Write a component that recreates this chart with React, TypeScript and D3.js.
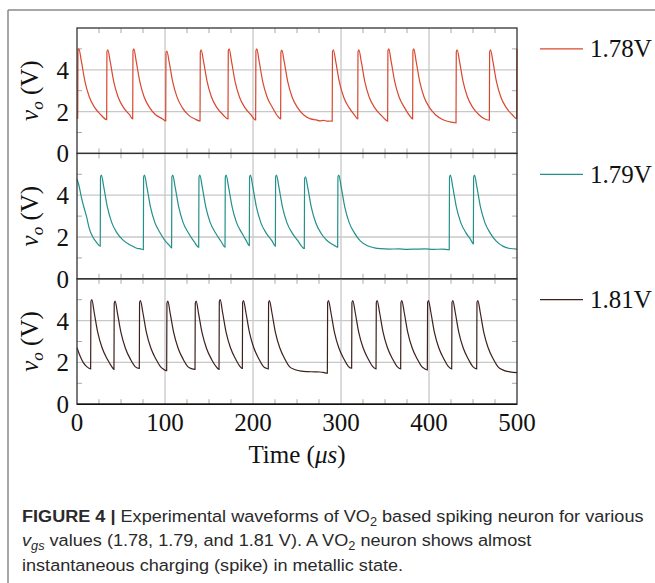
import React, { useLayoutEffect, useRef, useState } from 'react';
import * as d3 from 'd3';

type P = [number, number];

const xTicks = [0, 100, 200, 300, 400, 500];
const xMinor = [25, 50, 75, 125, 150, 175, 225, 250, 275, 325, 350, 375, 425, 450, 475];
const yTicks = [0, 2, 4];
const yMinor = [1, 3, 5];
const seriesLabels = ['1.78V', '1.79V', '1.81V'];
const seriesColors = ['#d9472f', '#23908b', '#3d211d'];

const v178: P[] = [
  [0, 1.66], [0.8, 1.68], [1.1, 4.9], [2.1, 5.0], [5, 4.4], [9, 3.45], [14, 2.7], [20, 2.2], [27, 1.85],
  [33.7, 1.62], [34.0, 4.86], [35.0, 4.96], [37.7, 4.4], [41.7, 3.45], [46.7, 2.7], [52.7, 2.2], [59.7, 1.85],
  [63.3, 1.65], [63.6, 4.9], [64.6, 5.0], [67.3, 4.4], [71.3, 3.45], [76.3, 2.7], [82.3, 2.2], [89.3, 1.85], [97.3, 1.65],
  [100.8, 1.56], [101.1, 4.8], [102.1, 4.9], [104.8, 4.35], [108.8, 3.42], [113.8, 2.68], [119.8, 2.18], [126.8, 1.83], [134.8, 1.63],
  [139.8, 1.55], [140.1, 4.85], [141.1, 4.95], [143.8, 4.4], [147.8, 3.45], [152.8, 2.7], [158.8, 2.2], [165.8, 1.85],
  [171.6, 1.65], [171.9, 4.9], [172.9, 5.0], [175.6, 4.4], [179.6, 3.45], [184.6, 2.7], [190.6, 2.2], [197.6, 1.85],
  [203.0, 1.6], [203.3, 4.9], [204.3, 5.0], [207.0, 4.4], [211.0, 3.45], [216.0, 2.7], [222.0, 2.2], [228.0, 1.78],
  [231.4, 1.65], [231.7, 4.84], [232.7, 4.94], [235.4, 4.4], [239.4, 3.45], [244.4, 2.7], [250.4, 2.2], [257.4, 1.85], [265.4, 1.65], [272, 1.6], [276, 1.56], [280, 1.58], [284, 1.54], [288, 1.55],
  [290.0, 1.54], [290.3, 4.86], [291.3, 4.96], [294.0, 4.4], [298.0, 3.45], [303.0, 2.7], [309.0, 2.2], [316.0, 1.8],
  [319.0, 1.65], [319.3, 4.86], [320.3, 4.96], [323.0, 4.4], [327.0, 3.45], [332.0, 2.7], [338.0, 2.2], [345.0, 1.85], [351.0, 1.6],
  [353.0, 1.54], [353.3, 4.9], [354.3, 5.0], [357.0, 4.4], [361.0, 3.45], [366.0, 2.7], [372.0, 2.2], [379.0, 1.75],
  [381.4, 1.65], [381.7, 4.9], [382.7, 5.0], [385.4, 4.4], [389.4, 3.45], [394.4, 2.7], [400.4, 2.2], [407.4, 1.85], [415.4, 1.62], [420, 1.55], [425, 1.5], [429, 1.47],
  [430.7, 1.46], [431.0, 4.86], [432.0, 4.96], [434.7, 4.4], [438.7, 3.45], [443.7, 2.7], [449.7, 2.2], [456.7, 1.85], [464.7, 1.62],
  [468.6, 1.59], [468.9, 4.86], [469.9, 4.96], [472.6, 4.4], [476.6, 3.45], [481.6, 2.7], [487.6, 2.2], [494.6, 1.85],
  [499.6, 1.67], [499.9, 4.9], [500, 5.0],
];

const v179: P[] = [
  [0, 4.78], [2, 4.5], [5, 3.9], [8, 3.4], [11, 2.95], [14, 2.4], [18, 2.0], [22, 1.75],
  [26.4, 1.56], [26.7, 4.86], [27.7, 4.96], [30.4, 4.4], [34.4, 3.45], [39.4, 2.7], [45.4, 2.2], [52.4, 1.85], [60.4, 1.62], [65, 1.52], [68, 1.46], [71, 1.44], [73, 1.42],
  [75.4, 1.4], [75.7, 4.86], [76.7, 4.96], [79.4, 4.4], [83.4, 3.45], [88.4, 2.7], [94.4, 2.2], [101.4, 1.75], [105, 1.6],
  [107.5, 1.48], [107.8, 4.86], [108.8, 4.96], [111.5, 4.4], [115.5, 3.45], [120.5, 2.7], [126.5, 2.2], [133.5, 1.75],
  [138.3, 1.51], [138.6, 4.86], [139.6, 4.96], [142.3, 4.4], [146.3, 3.45], [151.3, 2.7], [157.3, 2.2], [164.3, 1.75],
  [168.2, 1.51], [168.5, 4.86], [169.5, 4.96], [172.2, 4.4], [176.2, 3.45], [181.2, 2.7], [187.2, 2.2], [192, 1.85],
  [195.8, 1.59], [196.1, 4.86], [197.1, 4.96], [199.8, 4.4], [203.8, 3.45], [208.8, 2.7], [214.8, 2.2], [221.8, 1.8],
  [225.4, 1.56], [225.7, 4.86], [226.7, 4.96], [229.4, 4.4], [233.4, 3.45], [238.4, 2.7], [244.4, 2.2], [251.4, 1.8], [254.5, 1.6],
  [258.3, 1.45], [258.6, 4.78], [259.6, 4.88], [262.3, 4.35], [266.3, 3.42], [271.3, 2.68], [277.3, 2.18], [284.3, 1.82], [292.3, 1.6],
  [296.2, 1.51], [296.5, 4.86], [297.5, 4.96], [300.2, 4.4], [304.2, 3.45], [309.2, 2.7], [315.2, 2.2], [322.2, 1.8], [330, 1.58], [338, 1.48], [345, 1.44], [355, 1.42], [365, 1.43], [375, 1.41], [385, 1.42], [395, 1.43], [405, 1.41], [415, 1.42],
  [423, 1.4], [423.3, 4.86], [424.3, 4.96], [427, 4.4], [431, 3.45], [436, 2.7], [442, 2.2], [447, 1.9],
  [450.4, 1.67], [450.7, 4.86], [451.7, 4.96], [454.4, 4.4], [458.4, 3.45], [463.4, 2.7], [469.4, 2.2], [476.4, 1.8], [484.4, 1.55], [492, 1.45], [500, 1.42],
];

const v181: P[] = [
  [0, 2.7], [3, 2.35], [7, 2.0], [11, 1.8],
  [15.5, 1.69], [15.8, 4.91], [16.8, 5.01], [19.5, 4.4], [23.5, 3.45], [28.5, 2.7], [34.5, 2.15], [39.5, 1.8],
  [42.0, 1.67], [42.3, 4.83], [43.3, 4.93], [46.0, 4.35], [50.0, 3.42], [55.0, 2.68], [61.0, 2.13], [66.0, 1.8],
  [70.8, 1.71], [71.1, 4.86], [72.1, 4.96], [74.8, 4.4], [78.8, 3.45], [83.8, 2.7], [89.8, 2.15], [94.8, 1.8], [98.0, 1.68],
  [101.9, 1.6], [102.2, 4.83], [103.2, 4.93], [105.9, 4.35], [109.9, 3.42], [114.9, 2.68], [120.9, 2.13], [125.9, 1.8], [130, 1.7],
  [134.1, 1.67], [134.4, 4.83], [135.4, 4.93], [138.1, 4.35], [142.1, 3.42], [147.1, 2.68], [153.1, 2.13], [158.1, 1.8],
  [161.4, 1.67], [161.7, 4.9], [162.7, 5.0], [165.4, 4.4], [169.4, 3.45], [174.4, 2.7], [180.4, 2.15], [185.4, 1.8],
  [187.9, 1.71], [188.2, 4.86], [189.2, 4.96], [191.9, 4.4], [195.9, 3.45], [200.9, 2.7], [206.9, 2.15], [211.9, 1.8], [215, 1.72],
  [217.4, 1.69], [217.7, 4.86], [218.7, 4.96], [221.4, 4.4], [225.4, 3.45], [230.4, 2.7], [236.4, 2.15], [241.4, 1.8], [248, 1.65], [255, 1.58], [262, 1.56], [270, 1.55], [276, 1.54], [280, 1.52],
  [284.5, 1.48], [284.8, 4.86], [285.8, 4.96], [288.5, 4.4], [292.5, 3.45], [297.5, 2.7], [303.5, 2.15], [308.5, 1.8],
  [312.1, 1.72], [312.4, 4.86], [313.4, 4.96], [316.1, 4.4], [320.1, 3.45], [325.1, 2.7], [331.1, 2.15], [336.1, 1.8],
  [339.8, 1.69], [340.1, 4.86], [341.1, 4.96], [343.8, 4.4], [347.8, 3.45], [352.8, 2.7], [358.8, 2.15], [363.8, 1.8],
  [367.8, 1.69], [368.1, 4.86], [369.1, 4.96], [371.8, 4.4], [375.8, 3.45], [380.8, 2.7], [386.8, 2.15], [391.8, 1.8], [395, 1.7],
  [398.1, 1.64], [398.4, 4.86], [399.4, 4.96], [402.1, 4.4], [406.1, 3.45], [411.1, 2.7], [417.1, 2.15], [422.1, 1.8],
  [425.8, 1.69], [426.1, 4.86], [427.1, 4.96], [429.8, 4.4], [433.8, 3.45], [438.8, 2.7], [444.8, 2.15], [449.8, 1.8],
  [454.2, 1.69], [454.5, 4.86], [455.5, 4.96], [458.2, 4.4], [462.2, 3.45], [467.2, 2.7], [473.2, 2.15], [478.2, 1.8], [485, 1.62], [492, 1.55], [500, 1.51],
];

const seriesData = [v178, v179, v181];

const W = 655;
const H = 583;
const X0 = 77;
const X1 = 517;
const TOP = 28;
const PH = 125.4;
const SERIF = '"Liberation Serif", "Times New Roman", serif';
const SANS = '"Liberation Sans", Arial, sans-serif';

export default function App() {
  const capRef = useRef<SVGTextElement>(null);
  const [sx, setSx] = useState(1);

  useLayoutEffect(() => {
    if (capRef.current) {
      const w = capRef.current.getComputedTextLength();
      if (w > 0) setSx(622 / w);
    }
  }, []);

  const x = d3.scaleLinear().domain([0, 500]).range([X0, X1]);

  const panels = seriesData.map((data, i) => {
    const top = TOP + i * PH;
    const y = d3.scaleLinear().domain([0, 6]).range([top + PH, top]);
    const line = d3
      .line<P>()
      .x((d) => x(d[0]))
      .y((d) => y(d[1]))
      .curve(d3.curveMonotoneX);
    return { top, y, path: line(data) || '', color: seriesColors[i], label: seriesLabels[i] };
  });

  const bottom = TOP + 3 * PH;

  return (
    <svg width={W} height={H} style={{ position: 'absolute', left: 0, top: 0, background: '#fff' }}>
      {/* figure frame */}
      <line x1={8} y1={10} x2={W} y2={10} stroke="#8a8a8a" strokeWidth={1.5} />
      <line x1={8} y1={10} x2={8} y2={H} stroke="#8a8a8a" strokeWidth={1.5} />

      {panels.map((p, i) => (
        <g key={i}>
          {/* grid */}
          {xTicks.slice(1, -1).map((t) => (
            <line key={'gx' + t} x1={x(t)} x2={x(t)} y1={p.top} y2={p.top + PH} stroke="#c8c8c8" strokeWidth={1.3} />
          ))}
          {[2, 4].map((v) => (
            <line key={'gy' + v} x1={X0} x2={X1} y1={p.y(v)} y2={p.y(v)} stroke="#c8c8c8" strokeWidth={1.3} />
          ))}
          {/* minor ticks */}
          {xMinor.map((t) => (
            <g key={'mx' + t}>
              <line x1={x(t)} x2={x(t)} y1={p.top} y2={p.top + 5} stroke="#aaa" strokeWidth={1} />
              <line x1={x(t)} x2={x(t)} y1={p.top + PH} y2={p.top + PH - 5} stroke="#aaa" strokeWidth={1} />
            </g>
          ))}
          {yMinor.map((v) => (
            <g key={'my' + v}>
              <line x1={X0} x2={X0 + 5} y1={p.y(v)} y2={p.y(v)} stroke="#aaa" strokeWidth={1} />
              <line x1={X1} x2={X1 - 5} y1={p.y(v)} y2={p.y(v)} stroke="#aaa" strokeWidth={1} />
            </g>
          ))}
          {/* data */}
          <path d={p.path} fill="none" stroke={p.color} strokeWidth={1.2} />
          {/* frame */}
          <rect x={X0} y={p.top} width={X1 - X0} height={PH} fill="none" stroke="#333" strokeWidth={1.3} />
          {/* y tick labels */}
          {yTicks.map((v) => (
            <text key={'yl' + v} x={69} y={p.y(v) + 9} textAnchor="end" fontFamily={SERIF} fontSize={25} fill="#111">
              {v}
            </text>
          ))}
          {/* y title */}
          <text
            transform={`translate(38, ${p.top + PH / 2}) rotate(-90)`}
            textAnchor="middle"
            fontFamily={SERIF}
            fontSize={25}
            fill="#111"
          >
            <tspan fontStyle="italic">v</tspan>
            <tspan fontStyle="italic" fontSize={17} dy={5}>o</tspan>
            <tspan dy={-5}> (V)</tspan>
          </text>
          {/* legend */}
          <line x1={540} x2={583} y1={p.y(5)} y2={p.y(5)} stroke={p.color} strokeWidth={1.3} />
          <text x={590} y={p.y(5) + 8.5} fontFamily={SERIF} fontSize={25} fill="#111">
            {p.label}
          </text>
        </g>
      ))}
      <line x1={X0} x2={X1} y1={bottom} y2={bottom} stroke="#111" strokeWidth={1.5} />

      {/* x tick labels */}
      {xTicks.map((t) => (
        <text key={'xl' + t} x={x(t)} y={431} textAnchor="middle" fontFamily={SERIF} fontSize={25} fill="#111">
          {t}
        </text>
      ))}
      <text x={(X0 + X1) / 2} y={463} textAnchor="middle" fontFamily={SERIF} fontSize={25} fill="#111">
        <tspan>Time (</tspan>
        <tspan fontStyle="italic">μs</tspan>
        <tspan>)</tspan>
      </text>

      {/* caption */}
      <g transform={`translate(22, 0) scale(${sx}, 1)`} fontFamily={SANS} fontSize={17} fill="#2a2a2a">
        <text ref={capRef} x={0} y={522}>
          <tspan fontWeight="bold">FIGURE 4 |</tspan>
          <tspan> Experimental waveforms of VO</tspan>
          <tspan fontSize={12} dy={4}>2</tspan>
          <tspan dy={-4}> based spiking neuron for various</tspan>
        </text>
        <text x={0} y={546.5}>
          <tspan fontStyle="italic">v</tspan>
          <tspan fontStyle="italic" fontSize={12} dy={4}>gs</tspan>
          <tspan dy={-4}> values (1.78, 1.79, and 1.81 V). A VO</tspan>
          <tspan fontSize={12} dy={4}>2</tspan>
          <tspan dy={-4}> neuron shows almost</tspan>
        </text>
        <text x={0} y={571}>instantaneous charging (spike) in metallic state.</text>
      </g>
    </svg>
  );
}
